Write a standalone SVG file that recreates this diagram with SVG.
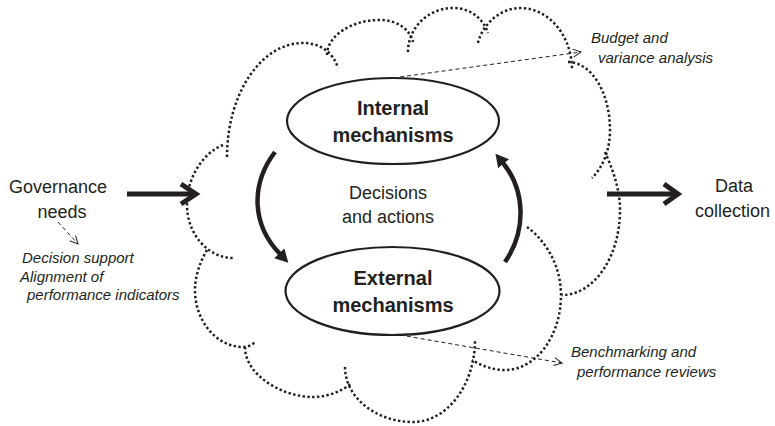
<svg xmlns="http://www.w3.org/2000/svg" width="775" height="426" viewBox="0 0 775 426">
<style>
  .cloud { fill: none; stroke: #231f20; stroke-width: 2.5; stroke-dasharray: 2.4 2.4; }
  .node { fill: #ffffff; stroke: #231f20; stroke-width: 2.2; }
  .bold { font-family: "Liberation Sans", Arial, sans-serif; font-weight: bold; font-size: 20px; fill: #231f20; text-anchor: middle; }
  .reg { font-family: "Liberation Sans", Arial, sans-serif; font-size: 18px; fill: #231f20; }
  .ital { font-family: "Liberation Sans", Arial, sans-serif; font-style: italic; font-size: 15px; fill: #231f20; }
  .thick { fill: none; stroke: #231f20; stroke-width: 4.5; }
  .chev { fill: none; stroke: #231f20; stroke-width: 5; stroke-linejoin: miter; }
  .dash { fill: none; stroke: #231f20; stroke-width: 1; stroke-dasharray: 4 3; }
</style>
<defs>
  <marker id="open" markerUnits="userSpaceOnUse" markerWidth="12" markerHeight="12" refX="9" refY="4.5" orient="auto" viewBox="0 0 12 12">
    <path d="M1,0.5 L9,4.5 L1,8.5" fill="none" stroke="#231f20" stroke-width="1"/>
  </marker>
  <marker id="solid" markerUnits="userSpaceOnUse" markerWidth="16" markerHeight="16" refX="1" refY="7" orient="auto" viewBox="0 0 16 16">
    <path d="M0,0 L13,7 L0,14 Z" fill="#231f20"/>
  </marker>
</defs>

<g id="cloud">
  <path class="cloud" d="M227,157 C227,94 261,43 303,43 C320,43 333,52 338,68"/>
  <path class="cloud" d="M327,55 C327,36 351,20 380,20 C398,20 410,30 413,42"/>
  <path class="cloud" d="M408,52 C408,28 428,8 453,8 C470,8 483,18 488,33"/>
  <path class="cloud" d="M478,43 C482,25 500,8 520,8 C549,8 572,36 572,70"/>
  <path class="cloud" d="M568,62 C591,62 610,92 610,130 C610,150 603,167 592,178"/>
  <path class="cloud" d="M605,152 C612,168 620,188 620,210 C620,257 594,295 562,295"/>
  <path class="cloud" d="M527,227 C545,240 561,265 561,295 C561,336 536,370 505,370 C493,370 482,366 472,360"/>
  <path class="cloud" d="M345,367 C345,397 375.5,422 413,422 C447,422 475,385 475,340"/>
  <path class="cloud" d="M245,347 C245,375 282,397 313,397 C328,397 342,391 352,383"/>
  <path class="cloud" d="M207,250 C200,262 195,276 195,290 C195,321 216.5,347 243,347 C248,347 252,345 255,342"/>
  <path class="cloud" d="M223,145 C205,152 187,175 187,205 C187,234 208,258 233,258"/>
</g>

<g id="connectors">
  <path class="thick" d="M275,152 C250,185 252,225 280,254" marker-end="url(#solid)"/>
  <path class="thick" d="M505,262 C527,230 525,190 503,163" marker-end="url(#solid)"/>
  <line class="chev" x1="127" y1="194" x2="194" y2="194"/>
  <polyline class="chev" points="181,184 196,194 181,204"/>
  <line class="chev" x1="607" y1="194" x2="676" y2="194"/>
  <polyline class="chev" points="664,184 678,194 664,204"/>
  <path class="dash" d="M400,77 L581,52" marker-end="url(#open)"/>
  <path class="dash" d="M400,335 L562,363" marker-end="url(#open)"/>
  <path class="dash" d="M58,222 L78,244" marker-end="url(#open)"/>
</g>

<g id="internal">
  <ellipse class="node" cx="393" cy="121" rx="106" ry="43"/>
  <text class="bold" x="393" y="115">Internal</text>
  <text class="bold" x="393" y="142">mechanisms</text>
</g>

<g id="external">
  <ellipse class="node" cx="392.5" cy="291" rx="107" ry="44"/>
  <text class="bold" x="393" y="285">External</text>
  <text class="bold" x="393" y="312">mechanisms</text>
</g>

<g id="decisions">
  <text class="reg" x="388" y="199" text-anchor="middle">Decisions</text>
  <text class="reg" x="388" y="223" text-anchor="middle">and actions</text>
</g>

<g id="governance">
  <text class="reg" x="58" y="193" text-anchor="middle">Governance</text>
  <text class="reg" x="62" y="218" text-anchor="middle">needs</text>
</g>

<g id="data-collection">
  <text class="reg" x="734" y="192" text-anchor="middle">Data</text>
  <text class="reg" x="695" y="217">collection</text>
</g>

<g id="governance-notes">
  <text class="ital" x="22" y="263">Decision support</text>
  <text class="ital" x="20" y="282">Alignment of</text>
  <text class="ital" x="27" y="300">performance indicators</text>
</g>

<g id="budget-note">
  <text class="ital" x="591" y="43">Budget and</text>
  <text class="ital" x="598" y="63">variance analysis</text>
</g>

<g id="benchmark-note">
  <text class="ital" x="571" y="357">Benchmarking and</text>
  <text class="ital" x="577" y="377">performance reviews</text>
</g>
</svg>
